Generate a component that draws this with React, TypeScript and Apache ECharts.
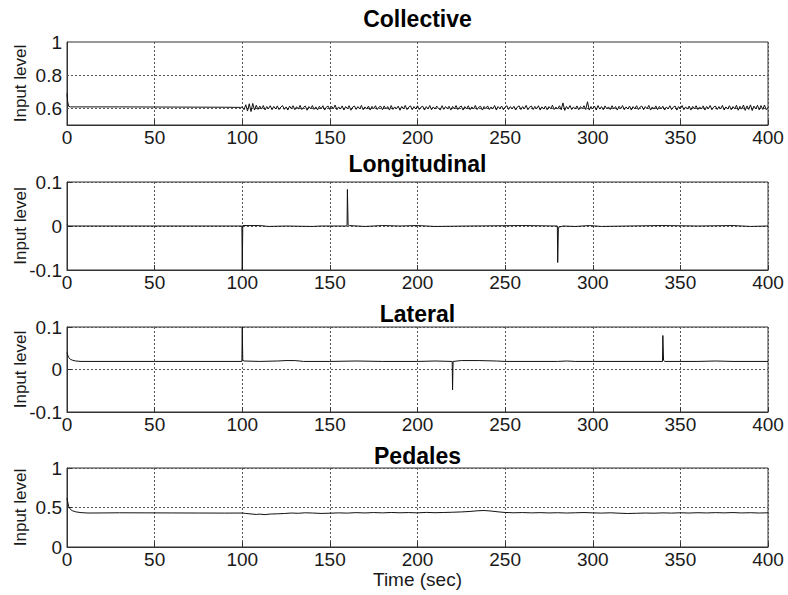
import React, { useEffect, useRef } from "react";
import * as echarts from "echarts";

// Panel titles and shared axis text
const panelTitles = ["Collective", "Longitudinal", "Lateral", "Pedales"];
const yAxisName = "Input level";
const xAxisName = "Time (sec)";

// Y ranges per panel: [min, max, interval]
const yRanges: [number, number, number][] = [
  [0.5, 1, 0.1],
  [-0.1, 0.1, 0.1],
  [-0.1, 0.1, 0.1],
  [0, 1, 0.5],
];
// Collective panel only labels these levels
const collectiveTickLabels = [0.6, 0.8, 1];
const collectiveGridLevels = [0.6, 0.8];

// Collective: transient at start, then steady until 100 s
const collectiveStart: [number, number][] = [
  [0, 0.69], [0.4, 0.64], [1, 0.612], [2, 0.609], [5, 0.609], [30, 0.609],
  [60, 0.608], [90, 0.607], [99, 0.606],
];
// Collective: noisy part, one sample per second from 100 s to 400 s
const collectiveNoiseStart = 100;
const collectiveNoiseStep = 1;
const collectiveNoise = [
  0.608, 0.592, 0.622, 0.584, 0.628, 0.581, 0.630, 0.590, 0.619, 0.594, 0.614, 0.596, 0.617, 0.591, 0.611, 0.599, 0.616, 0.592, 0.612, 0.597,
  0.615, 0.593, 0.608, 0.617, 0.594, 0.609, 0.590, 0.614, 0.598, 0.616, 0.592, 0.610, 0.596, 0.618, 0.593, 0.607, 0.614, 0.589, 0.611, 0.598,
  0.617, 0.594, 0.609, 0.591, 0.613, 0.597, 0.616, 0.590, 0.608, 0.614, 0.593, 0.612, 0.598, 0.620, 0.592, 0.609, 0.596, 0.615, 0.590, 0.611,
  0.598, 0.616, 0.589, 0.608, 0.614, 0.594, 0.611, 0.597, 0.618, 0.592, 0.609, 0.596, 0.614, 0.590, 0.612, 0.598, 0.616, 0.593, 0.608, 0.613,
  0.592, 0.615, 0.597, 0.611, 0.590, 0.617, 0.594, 0.609, 0.598, 0.614, 0.589, 0.612, 0.597, 0.618, 0.593, 0.608, 0.615, 0.592, 0.611, 0.596,
  0.616, 0.593, 0.608, 0.613, 0.590, 0.611, 0.597, 0.617, 0.592, 0.609, 0.596, 0.614, 0.599, 0.591, 0.616, 0.594, 0.611, 0.598, 0.613, 0.590,
  0.612, 0.597, 0.617, 0.593, 0.608, 0.614, 0.590, 0.611, 0.597, 0.616, 0.592, 0.609, 0.596, 0.618, 0.593, 0.608, 0.613, 0.590, 0.612, 0.598,
  0.615, 0.593, 0.609, 0.597, 0.617, 0.590, 0.611, 0.599, 0.614, 0.592, 0.608, 0.616, 0.594, 0.611, 0.597, 0.613, 0.590, 0.609, 0.615, 0.593,
  0.611, 0.597, 0.618, 0.592, 0.608, 0.614, 0.593, 0.612, 0.598, 0.616, 0.590, 0.609, 0.596, 0.614, 0.592, 0.611, 0.598, 0.619, 0.593, 0.608,
  0.596, 0.616, 0.592, 0.633, 0.588, 0.612, 0.597, 0.617, 0.593, 0.609, 0.596, 0.615, 0.592, 0.611, 0.598, 0.616, 0.593, 0.640, 0.590, 0.611,
  0.597, 0.614, 0.590, 0.617, 0.596, 0.611, 0.592, 0.615, 0.598, 0.609, 0.593, 0.616, 0.597, 0.611, 0.590, 0.613, 0.599, 0.617, 0.592, 0.609,
  0.596, 0.614, 0.590, 0.611, 0.597, 0.616, 0.593, 0.608, 0.614, 0.592, 0.611, 0.598, 0.618, 0.590, 0.609, 0.596, 0.615, 0.592, 0.612, 0.597,
  0.613, 0.590, 0.609, 0.597, 0.616, 0.593, 0.608, 0.614, 0.590, 0.611, 0.598, 0.617, 0.592, 0.609, 0.596, 0.614, 0.590, 0.612, 0.597, 0.616,
  0.593, 0.609, 0.596, 0.615, 0.590, 0.611, 0.598, 0.617, 0.592, 0.608, 0.614, 0.593, 0.611, 0.597, 0.618, 0.590, 0.609, 0.596, 0.616, 0.592,
  0.611, 0.597, 0.619, 0.589, 0.613, 0.596, 0.620, 0.588, 0.615, 0.594, 0.621, 0.587, 0.614, 0.597, 0.619, 0.591, 0.617, 0.594, 0.620, 0.592,
  0.606,
];

const longitudinal: [number, number][] = [
  [0, 0.003], [0.5, 0.001], [1, 0], [99.8, 0], [100, -0.1], [100.3, 0.001],
  [110, 0.001], [115, -0.001], [125, 0], [140, -0.001], [145, 0], [159.8, 0],
  [160, 0.083], [160.4, 0.003], [161, 0.001], [170, -0.001], [180, 0.001],
  [190, 0], [200, 0.001], [210, -0.001], [230, 0], [260, 0.001], [279.8, 0],
  [280, -0.083], [280.4, -0.003], [283, 0], [290, -0.001], [298, 0.001],
  [305, -0.001], [320, 0], [340, 0.001], [360, 0], [380, 0.001], [390, -0.001],
  [400, 0],
];

const lateral: [number, number][] = [
  [0, 0.04], [0.5, 0.033], [1, 0.028], [2, 0.024], [3, 0.022], [5, 0.02],
  [8, 0.019], [50, 0.019], [99.8, 0.019], [100, 0.1], [100.3, 0.022],
  [101, 0.02], [110, 0.019], [120, 0.02], [125, 0.021], [130, 0.021],
  [135, 0.019], [150, 0.019], [165, 0.02], [180, 0.019], [200, 0.019],
  [210, 0.02], [219.8, 0.019], [220, -0.048], [220.3, 0.019], [225, 0.021],
  [235, 0.021], [245, 0.02], [250, 0.019], [280, 0.019], [285, 0.02],
  [290, 0.019], [300, 0.019], [339.8, 0.019], [340, 0.08], [340.4, 0.022],
  [341, 0.019], [360, 0.019], [370, 0.02], [380, 0.019], [400, 0.019],
];

const pedales: [number, number][] = [
  [0, 0.62], [0.5, 0.56], [1, 0.51], [2, 0.475], [3, 0.46], [5, 0.445],
  [8, 0.435], [12, 0.43], [20, 0.431], [30, 0.433], [45, 0.432], [60, 0.431],
  [75, 0.43], [90, 0.429], [100, 0.43], [102, 0.425], [105, 0.418],
  [108, 0.412], [110, 0.416], [113, 0.41], [116, 0.417], [120, 0.42],
  [124, 0.424], [128, 0.43], [132, 0.427], [136, 0.433], [140, 0.43],
  [145, 0.425], [150, 0.428], [155, 0.432], [160, 0.429], [165, 0.435],
  [170, 0.431], [175, 0.436], [180, 0.432], [185, 0.437], [190, 0.433],
  [195, 0.436], [200, 0.432], [205, 0.438], [210, 0.434], [215, 0.437],
  [220, 0.44], [225, 0.444], [230, 0.45], [234, 0.458], [238, 0.462],
  [242, 0.455], [246, 0.445], [250, 0.437], [255, 0.433], [260, 0.436],
  [265, 0.432], [270, 0.435], [275, 0.431], [280, 0.434], [285, 0.43],
  [290, 0.433], [295, 0.436], [300, 0.432], [305, 0.429], [310, 0.433],
  [315, 0.428], [320, 0.424], [325, 0.427], [330, 0.43], [335, 0.428],
  [340, 0.432], [345, 0.429], [350, 0.433], [355, 0.43], [360, 0.434],
  [365, 0.431], [370, 0.435], [375, 0.432], [380, 0.436], [385, 0.431],
  [390, 0.434], [395, 0.43], [400, 0.433],
];

// Plot boxes: [top, height]
const panelBoxes: [number, number][] = [
  [42, 83],
  [182, 88],
  [327, 85],
  [468, 79],
];
const titleCenters = [19, 164, 314, 456];

const PLOT_LEFT = 67;
const PLOT_WIDTH = 701;
const INK = "#1a1a1a";
const FRAME = "#333";
const FONT = "'Liberation Sans', Arial, Helvetica, sans-serif";

function buildOption(): echarts.EChartsOption {
  const collectiveData: [number, number][] = [
    ...collectiveStart,
    ...collectiveNoise.map(
      (v, i) => [collectiveNoiseStart + i * collectiveNoiseStep, v] as [number, number]
    ),
  ];
  const seriesData = [collectiveData, longitudinal, lateral, pedales];

  const dotted = { color: "#555", width: 1, type: [2, 2] as number[] };

  const grids = panelBoxes.map(([top, height]) => ({
    left: PLOT_LEFT,
    top,
    width: PLOT_WIDTH,
    height,
    outerBoundsMode: "none",
    containLabel: false,
    show: true,
    borderColor: FRAME,
    borderWidth: 1,
    backgroundColor: "#fff",
  }));

  const xAxes = panelBoxes.map((_, i) => ({
    type: "value" as const,
    gridIndex: i,
    min: 0,
    max: 400,
    interval: 50,
    axisLine: { show: true, onZero: false, lineStyle: { color: FRAME } },
    axisTick: { show: true, inside: true, length: 5, lineStyle: { color: FRAME } },
    axisLabel: { fontSize: 19, color: INK, fontFamily: FONT, margin: 3 },
    splitLine: { show: true, lineStyle: dotted },
    ...(i === 3
      ? {
          name: xAxisName,
          nameLocation: "middle" as const,
          nameGap: 23,
          nameMoveOverlap: false,
          nameTextStyle: { fontSize: 19, color: INK, fontFamily: FONT },
        }
      : {}),
  }));

  const yAxes = yRanges.map(([min, max, interval], i) => ({
    type: "value" as const,
    gridIndex: i,
    min,
    max,
    interval,
    name: yAxisName,
    nameLocation: "middle" as const,
    nameGap: 38,
    nameMoveOverlap: false,
    nameTextStyle: { fontSize: 17, color: INK, fontFamily: FONT },
    axisLine: { show: true, onZero: false, lineStyle: { color: FRAME } },
    axisTick: { show: i !== 0, inside: true, length: 5, lineStyle: { color: FRAME } },
    axisLabel: {
      fontSize: 19,
      color: INK,
      fontFamily: FONT,
      margin: 5,
      formatter:
        i === 0
          ? (v: number) => {
              const hit = collectiveTickLabels.find((t) => Math.abs(v - t) < 1e-6);
              return hit === undefined ? "" : String(hit);
            }
          : (v: number) => String(Math.round(v * 1000) / 1000),
    },
    splitLine: { show: i !== 0, lineStyle: dotted },
  }));

  const series = seriesData.map((data, i) => ({
    type: "line" as const,
    xAxisIndex: i,
    yAxisIndex: i,
    data,
    showSymbol: false,
    symbol: "none",
    lineStyle: { color: "#111", width: 1 },
    z: 3,
    ...(i === 0
      ? {
          markLine: {
            silent: true,
            symbol: ["none", "none"],
            label: { show: false },
            lineStyle: dotted,
            z: 1,
            data: collectiveGridLevels.map((y) => ({ yAxis: y })),
          },
        }
      : {}),
  }));

  const titles = panelTitles.map((text, i) => ({
    type: "text" as const,
    x: PLOT_LEFT + PLOT_WIDTH / 2,
    y: titleCenters[i],
    style: {
      text,
      fill: "#000",
      font: `bold 23px ${FONT}`,
      textAlign: "center" as const,
      textVerticalAlign: "middle" as const,
    },
  }));

  return {
    animation: false,
    backgroundColor: "#fff",
    grid: grids,
    xAxis: xAxes,
    yAxis: yAxes,
    series,
    graphic: titles,
  } as echarts.EChartsOption;
}

export default function App() {
  const ref = useRef<HTMLDivElement>(null);

  useEffect(() => {
    if (!ref.current) return;
    const chart = echarts.init(ref.current, undefined, { renderer: "svg" });
    chart.setOption(buildOption());
    return () => chart.dispose();
  }, []);

  return (
    <div
      ref={ref}
      style={{ position: "absolute", left: 0, top: 0, width: 788, height: 595 }}
    />
  );
}
